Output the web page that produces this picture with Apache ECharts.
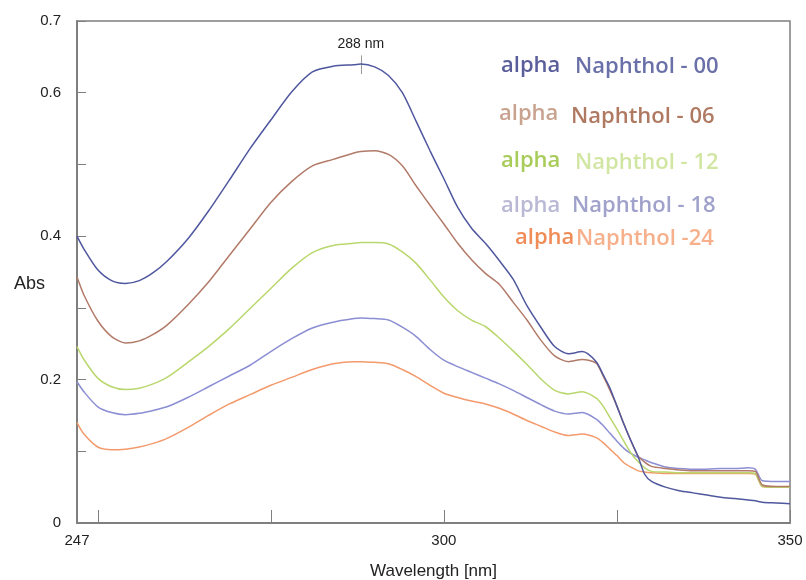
<!DOCTYPE html>
<html>
<head>
<meta charset="utf-8">
<script src="https://cdn.jsdelivr.net/npm/echarts@6/dist/echarts.min.js"></script>
<style>
  html, body { margin: 0; padding: 0; background: #fff; }
  #chart { width: 806px; height: 580px; }
</style>
</head>
<body>
<div id="chart"></div>
<script>
// wavelength grid (nm)
const wavelengths = [247, 248, 250, 252, 254, 256, 258, 260, 263, 266, 269, 272, 275, 278, 281, 284, 287, 288, 290, 292, 294, 296, 298, 300, 302, 304, 306, 308, 310, 312, 314, 316, 318, 320, 322, 323, 324, 325, 326, 327, 328, 329, 330, 332, 334, 336, 338, 340, 342, 344, 345, 346, 348, 350];

// absorbance per sample
const naph00 = [0.400, 0.382, 0.353, 0.338, 0.334, 0.338, 0.349, 0.365, 0.396, 0.435, 0.478, 0.522, 0.562, 0.601, 0.629, 0.637, 0.639, 0.640, 0.636, 0.624, 0.600, 0.560, 0.519, 0.480, 0.440, 0.411, 0.390, 0.366, 0.340, 0.303, 0.273, 0.246, 0.236, 0.239, 0.225, 0.207, 0.188, 0.163, 0.138, 0.115, 0.094, 0.068, 0.058, 0.050, 0.045, 0.042, 0.039, 0.036, 0.034, 0.032, 0.031, 0.029, 0.028, 0.027];
const naph06 = [0.343, 0.318, 0.282, 0.260, 0.251, 0.254, 0.263, 0.276, 0.304, 0.336, 0.373, 0.410, 0.447, 0.476, 0.498, 0.507, 0.516, 0.518, 0.519, 0.514, 0.498, 0.470, 0.443, 0.417, 0.390, 0.367, 0.348, 0.333, 0.308, 0.283, 0.255, 0.233, 0.225, 0.228, 0.223, 0.205, 0.185, 0.163, 0.138, 0.115, 0.094, 0.085, 0.079, 0.076, 0.074, 0.073, 0.073, 0.073, 0.073, 0.073, 0.072, 0.053, 0.051, 0.051];
const naph12 = [0.246, 0.228, 0.202, 0.190, 0.186, 0.188, 0.194, 0.203, 0.224, 0.246, 0.271, 0.299, 0.327, 0.355, 0.377, 0.387, 0.390, 0.391, 0.391, 0.389, 0.378, 0.362, 0.339, 0.315, 0.296, 0.283, 0.274, 0.258, 0.240, 0.221, 0.201, 0.185, 0.180, 0.183, 0.174, 0.163, 0.147, 0.131, 0.114, 0.098, 0.086, 0.077, 0.072, 0.071, 0.070, 0.070, 0.070, 0.070, 0.070, 0.070, 0.069, 0.051, 0.050, 0.050];
const naph18 = [0.197, 0.183, 0.162, 0.154, 0.151, 0.153, 0.157, 0.162, 0.175, 0.190, 0.205, 0.220, 0.239, 0.257, 0.272, 0.280, 0.285, 0.286, 0.285, 0.283, 0.273, 0.260, 0.242, 0.227, 0.218, 0.210, 0.202, 0.194, 0.185, 0.175, 0.165, 0.156, 0.152, 0.154, 0.145, 0.136, 0.125, 0.114, 0.104, 0.097, 0.092, 0.088, 0.084, 0.078, 0.076, 0.075, 0.075, 0.076, 0.076, 0.077, 0.075, 0.059, 0.058, 0.058];
const naph24 = [0.140, 0.124, 0.106, 0.102, 0.103, 0.106, 0.111, 0.118, 0.133, 0.150, 0.166, 0.179, 0.192, 0.203, 0.214, 0.222, 0.225, 0.225, 0.224, 0.222, 0.214, 0.204, 0.192, 0.181, 0.175, 0.170, 0.166, 0.160, 0.152, 0.143, 0.135, 0.127, 0.122, 0.124, 0.119, 0.112, 0.103, 0.094, 0.084, 0.078, 0.073, 0.071, 0.070, 0.069, 0.069, 0.069, 0.069, 0.069, 0.069, 0.069, 0.068, 0.051, 0.050, 0.050];

const xLabels = [247, 300, 350];
const xTicks = [250, 275, 300, 325, 350];
const yLabels = [0, 0.2, 0.4, 0.6, 0.7];
const peakNm = 288;

const names = ["Naphthol - 00", "Naphthol - 06", "Naphthol - 12", "Naphthol - 18", "Naphthol -24"];
const lineColors = ["#4f579e", "#b27a68", "#b9d76c", "#8b8ed2", "#f39a6c"];
const alphaColors = ["#5a5f9c", "#c9a390", "#a8cc5a", "#b9b9d6", "#f08c58"];
const nameColors = ["#6a70a8", "#b07a62", "#d2e6a4", "#a0a2cc", "#f6b08c"];

const myChart = echarts.init(document.getElementById("chart"));

function pairs(vals) {
  return wavelengths.map((w, i) => [w, vals[i]]);
}

const allSeries = [naph00, naph06, naph12, naph18, naph24].map((vals, i) => ({
  name: names[i],
  type: "line",
  data: pairs(vals),
  smooth: 0.25,
  showSymbol: false,
  lineStyle: { color: lineColors[i], width: 1.5 },
  z: 5 - i
}));

// 288 nm peak marker on the top curve
allSeries[0].markLine = {
  silent: true,
  symbol: "none",
  lineStyle: { color: "#999", width: 1, type: "solid" },
  label: {
    position: "end",
    formatter: peakNm + " nm",
    color: "#222",
    fontSize: 14,
    fontFamily: "Liberation Sans",
    distance: 4
  },
  data: [[{ coord: [peakNm, 0.626] }, { coord: [peakNm, 0.652] }]]
};

// legend text rows: [alpha x, alpha top, name x, name top]
const rows = [
  [501, 55, 575, 56],
  [499, 103, 571, 106],
  [501, 150, 575, 152],
  [501, 195, 572, 195],
  [515, 227, 576, 228]
];
const graphics = [];
rows.forEach((r, i) => {
  graphics.push({
    type: "text", left: r[0], top: r[1], silent: true,
    style: { text: "alpha", fill: alphaColors[i], font: "600 22px 'Open Sans'" }
  });
  graphics.push({
    type: "text", left: r[2], top: r[3], silent: true,
    style: { text: names[i], fill: nameColors[i], font: "600 22px 'Open Sans'" }
  });
});

myChart.setOption({
  animation: false,
  backgroundColor: "#fff",
  textStyle: { fontFamily: "Liberation Sans" },
  grid: {
    left: 77, right: 16, top: 21, bottom: 57,
    outerBoundsMode: "none",
    show: true, borderColor: "#7f7f7f", borderWidth: 1.5
  },
  xAxis: {
    type: "value",
    min: 247,
    max: 350,
    name: "Wavelength [nm]",
    nameLocation: "middle",
    nameGap: 40,
    nameMoveOverlap: false,
    nameTextStyle: { color: "#222", fontSize: 17 },
    axisLine: { show: true, lineStyle: { color: "#7f7f7f", width: 2 } },
    axisTick: { show: true, inside: true, length: 13, customValues: xTicks, lineStyle: { color: "#7f7f7f" } },
    axisLabel: { customValues: xLabels, color: "#222", fontSize: 15, margin: 10 },
    splitLine: { show: false }
  },
  yAxis: {
    type: "value",
    min: 0,
    max: 0.7,
    interval: 0.1,
    name: "Abs",
    nameLocation: "middle",
    nameRotate: 0,
    nameGap: 32,
    nameMoveOverlap: false,
    nameTextStyle: { color: "#222", fontSize: 18, verticalAlign: "top", lineHeight: 24 },
    axisLine: { show: true, lineStyle: { color: "#7f7f7f", width: 2 } },
    axisTick: { show: true, inside: true, length: 9, lineStyle: { color: "#7f7f7f" } },
    axisLabel: { customValues: yLabels, color: "#222", fontSize: 15, margin: 16 },
    splitLine: { show: false }
  },
  graphic: graphics,
  series: allSeries
});
</script>
</body>
</html>
